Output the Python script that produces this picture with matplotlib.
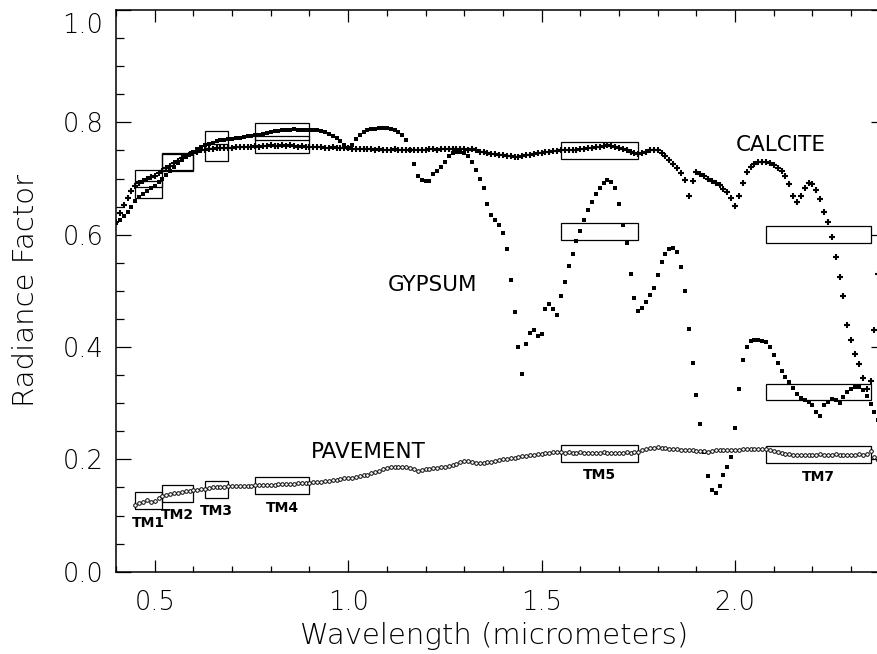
import numpy as np
import matplotlib
matplotlib.use('Agg')
import matplotlib.pyplot as plt
import matplotlib.transforms as mtransforms
from matplotlib.patches import Rectangle
from matplotlib.ticker import MultipleLocator, FormatStrFormatter, FuncFormatter

# wavelength grid (micrometers), 0.01 um sampling
wl = np.round(np.arange(0.40, 2.375, 0.01), 2)

calcite = [
    0.623, 0.638, 0.652, 0.665, 0.677, 0.687, 0.692, 0.696, 0.699, 0.702,
    0.705, 0.709, 0.714, 0.718, 0.723, 0.727, 0.731, 0.736, 0.740, 0.744,
    0.746, 0.748, 0.750, 0.751, 0.752, 0.753, 0.754, 0.754, 0.755, 0.755,
    0.755, 0.756, 0.756, 0.757, 0.756, 0.757, 0.758, 0.757, 0.758, 0.758,
    0.759, 0.758, 0.758, 0.759, 0.758, 0.759, 0.758, 0.757, 0.758, 0.757,
    0.757, 0.756, 0.757, 0.756, 0.755, 0.755, 0.756, 0.755, 0.755, 0.754,
    0.754, 0.753, 0.753, 0.752, 0.753, 0.752, 0.752, 0.751, 0.752, 0.751,
    0.751, 0.751, 0.752, 0.751, 0.751, 0.750, 0.751, 0.751, 0.750, 0.751,
    0.751, 0.752, 0.752, 0.751, 0.752, 0.753, 0.752, 0.752, 0.753, 0.752,
    0.752, 0.751, 0.752, 0.750, 0.748, 0.747, 0.746, 0.744, 0.743, 0.742,
    0.741, 0.740, 0.740, 0.739, 0.739, 0.740, 0.741, 0.742, 0.743, 0.745,
    0.746, 0.747, 0.748, 0.749, 0.749, 0.750, 0.750, 0.751, 0.750, 0.751,
    0.752, 0.752, 0.754, 0.754, 0.756, 0.757, 0.758, 0.759, 0.758, 0.756,
    0.754, 0.752, 0.750, 0.748, 0.745, 0.743, 0.745, 0.748, 0.750, 0.751,
    0.750, 0.746, 0.740, 0.733, 0.726, 0.718, 0.709, 0.697, 0.668, 0.695,
    0.712, 0.708, 0.704, 0.700, 0.696, 0.692, 0.688, 0.682, 0.676, 0.665,
    0.651, 0.668, 0.692, 0.712, 0.721, 0.726, 0.729, 0.730, 0.730, 0.728,
    0.724, 0.719, 0.713, 0.704, 0.690, 0.668, 0.659, 0.668, 0.683, 0.692,
    0.690, 0.680, 0.664, 0.641, 0.623, 0.596, 0.560, 0.525, 0.490, 0.440,
    0.412, 0.388, 0.370, 0.345, 0.325, 0.340, 0.430, 0.530,
]

gypsum = [
    0.620, 0.626, 0.633, 0.641, 0.650, 0.660, 0.667, 0.673, 0.678, 0.683,
    0.687, 0.693, 0.699, 0.706, 0.713, 0.720, 0.727, 0.733, 0.738, 0.743,
    0.748, 0.752, 0.756, 0.759, 0.762, 0.764, 0.766, 0.768, 0.769, 0.770,
    0.771, 0.772, 0.773, 0.774, 0.775, 0.776, 0.777, 0.778, 0.780, 0.781,
    0.783, 0.784, 0.785, 0.786, 0.787, 0.787, 0.788, 0.787, 0.786, 0.786,
    0.787, 0.786, 0.786, 0.785, 0.783, 0.780, 0.776, 0.772, 0.766, 0.760,
    0.755, 0.760, 0.770, 0.778, 0.783, 0.786, 0.788, 0.789, 0.790, 0.790,
    0.790, 0.789, 0.787, 0.783, 0.778, 0.768, 0.750, 0.725, 0.705, 0.698,
    0.695, 0.696, 0.708, 0.714, 0.720, 0.730, 0.740, 0.746, 0.748, 0.748,
    0.745, 0.740, 0.730, 0.716, 0.700, 0.683, 0.654, 0.635, 0.626, 0.617,
    0.603, 0.575, 0.520, 0.462, 0.400, 0.352, 0.405, 0.425, 0.430, 0.420,
    0.424, 0.468, 0.477, 0.468, 0.457, 0.490, 0.515, 0.545, 0.565, 0.588,
    0.606, 0.627, 0.644, 0.659, 0.673, 0.684, 0.692, 0.697, 0.694, 0.684,
    0.655, 0.617, 0.585, 0.530, 0.488, 0.465, 0.469, 0.480, 0.492, 0.505,
    0.528, 0.551, 0.565, 0.574, 0.576, 0.570, 0.542, 0.500, 0.432, 0.372,
    0.315, 0.263, 0.214, 0.170, 0.145, 0.140, 0.153, 0.172, 0.187, 0.205,
    0.255, 0.325, 0.377, 0.400, 0.410, 0.412, 0.412, 0.411, 0.409, 0.400,
    0.385, 0.372, 0.358, 0.346, 0.337, 0.327, 0.316, 0.309, 0.306, 0.303,
    0.297, 0.285, 0.278, 0.296, 0.303, 0.307, 0.306, 0.300, 0.311, 0.320,
    0.326, 0.328, 0.328, 0.323, 0.312, 0.298, 0.284, 0.270,
]

# pavement starts at 0.45 um
pavement = [
    0.118, 0.122, 0.125, 0.127, 0.124,
    0.126, 0.131, 0.134, 0.137, 0.139, 0.140, 0.141, 0.142, 0.143, 0.144,
    0.145, 0.146, 0.147, 0.148, 0.149, 0.150, 0.150, 0.151, 0.151, 0.152,
    0.152, 0.152, 0.153, 0.153, 0.153, 0.153, 0.154, 0.154, 0.154, 0.155,
    0.155, 0.155, 0.156, 0.156, 0.157, 0.157, 0.157, 0.158, 0.158, 0.158,
    0.158, 0.159, 0.159, 0.160, 0.161, 0.162, 0.163, 0.164, 0.165, 0.166,
    0.166, 0.167, 0.169, 0.171, 0.172, 0.173, 0.175, 0.177, 0.180, 0.182,
    0.184, 0.186, 0.187, 0.187, 0.187, 0.186, 0.185, 0.183, 0.180, 0.181,
    0.182, 0.183, 0.184, 0.185, 0.186, 0.187, 0.188, 0.190, 0.192, 0.195,
    0.197, 0.198, 0.196, 0.194, 0.193, 0.194, 0.195, 0.196, 0.198, 0.199,
    0.200, 0.201, 0.202, 0.203, 0.205, 0.206, 0.206, 0.207, 0.208, 0.209,
    0.210, 0.211, 0.212, 0.213, 0.213, 0.213, 0.212, 0.213, 0.212, 0.212,
    0.213, 0.212, 0.211, 0.212, 0.211, 0.212, 0.213, 0.212, 0.211, 0.212,
    0.211, 0.212, 0.213, 0.212, 0.213, 0.214, 0.216, 0.218, 0.220, 0.221,
    0.222, 0.221, 0.220, 0.219, 0.218, 0.218, 0.217, 0.217, 0.216, 0.216,
    0.215, 0.215, 0.215, 0.214, 0.215, 0.216, 0.216, 0.216, 0.217, 0.217,
    0.217, 0.217, 0.218, 0.218, 0.218, 0.218, 0.218, 0.218, 0.218, 0.217,
    0.215, 0.213, 0.211, 0.210, 0.209, 0.208, 0.208, 0.207, 0.208, 0.208,
    0.208, 0.208, 0.209, 0.208, 0.208, 0.208, 0.209, 0.208, 0.208, 0.208,
    0.208, 0.208, 0.209, 0.208, 0.209, 0.215, 0.205, 0.199,
]

# Landsat TM bands and band-averaged levels for each material
band_names = ['TM1', 'TM2', 'TM3', 'TM4', 'TM5', 'TM7']
band_lo = [0.45, 0.52, 0.63, 0.76, 1.55, 2.08]
band_hi = [0.52, 0.60, 0.69, 0.90, 1.75, 2.35]
calcite_band = [0.700, 0.729, 0.747, 0.760, 0.750, 0.600]
gypsum_band = [0.680, 0.731, 0.770, 0.784, 0.606, 0.320]
pavement_band = [0.127, 0.140, 0.147, 0.153, 0.211, 0.208]

fig = plt.figure(figsize=(8.78, 6.54), dpi=100)
# the frame runs slightly past the right edge of the picture (cropped original)
ax = fig.add_axes([0.1321, 0.1258, 0.877, 0.8589])

ax.plot(wl, calcite, linestyle='none', marker='+', ms=4.2, mew=1.5, color='black')
ax.plot(wl, gypsum, linestyle='none', marker='s', ms=3.5, mew=0, color='black')
ax.plot(wl[5:], pavement, linestyle='none', marker='o', ms=2.6, mew=0.7,
        mfc='white', mec='black')

box_h = 0.03
for levels in (calcite_band, gypsum_band, pavement_band):
    for lo, hi, lev in zip(band_lo, band_hi, levels):
        ax.add_patch(Rectangle((lo, lev - box_h / 2), hi - lo, box_h,
                               fill=False, edgecolor='black', linewidth=0.9))

for name, lo, hi, lev in zip(band_names, band_lo, band_hi, pavement_band):
    ax.text((lo + hi) / 2, lev - box_h / 2 - 0.012, name, ha='center', va='top',
            fontsize=10, fontweight='semibold')

ax.text(2.003, 0.760, 'CALCITE', fontsize=15.5, ha='left', va='center')
ax.text(1.103, 0.510, 'GYPSUM', fontsize=15.5, ha='left', va='center')
ax.text(0.903, 0.214, 'PAVEMENT', fontsize=15.5, ha='left', va='center')

ax.set_xlim(0.40, 2.39)
ax.set_ylim(0.0, 1.0)
ax.xaxis.set_major_locator(MultipleLocator(0.5))
ax.xaxis.set_minor_locator(MultipleLocator(0.1))
ax.yaxis.set_major_locator(MultipleLocator(0.2))
ax.yaxis.set_minor_locator(MultipleLocator(0.05))
ax.xaxis.set_major_formatter(FormatStrFormatter('%.1f'))
# top label (1.0) is drawn separately, nudged down inside the frame
ax.yaxis.set_major_formatter(FuncFormatter(lambda v, p: '' if v > 0.99 else '%.1f' % v))

ax.tick_params(which='both', direction='in', top=True, right=True, width=0.9)
ax.tick_params(axis='x', which='major', length=8.5, pad=13, labelsize=18.5)
ax.tick_params(axis='x', which='minor', length=4)
ax.tick_params(axis='y', which='major', length=11, pad=9, labelsize=18.5)
ax.tick_params(axis='y', which='minor', length=5.5)
for lab in ax.get_xticklabels() + ax.get_yticklabels():
    lab.set_fontweight('light')
for s in ax.spines.values():
    s.set_linewidth(1.1)

top_tr = mtransforms.blended_transform_factory(ax.transAxes, ax.transData) + \
    mtransforms.ScaledTranslation(-13 / 100, -3 / 100, fig.dpi_scale_trans)
ax.text(0, 1.0, '1.0', transform=top_tr, ha='right', va='top',
        fontsize=18.5, fontweight='light')

ax.set_xlabel('Wavelength (micrometers)', fontsize=21, labelpad=3,
              fontweight='light')
ax.set_ylabel('Radiance Factor', fontsize=21, labelpad=16, fontweight='light')

# label centred on the visible part of the frame, as in the original
ax.xaxis.set_label_coords(0.4905, -0.09, transform=ax.transAxes)

fig.savefig('out.png', dpi=100, facecolor='white')
